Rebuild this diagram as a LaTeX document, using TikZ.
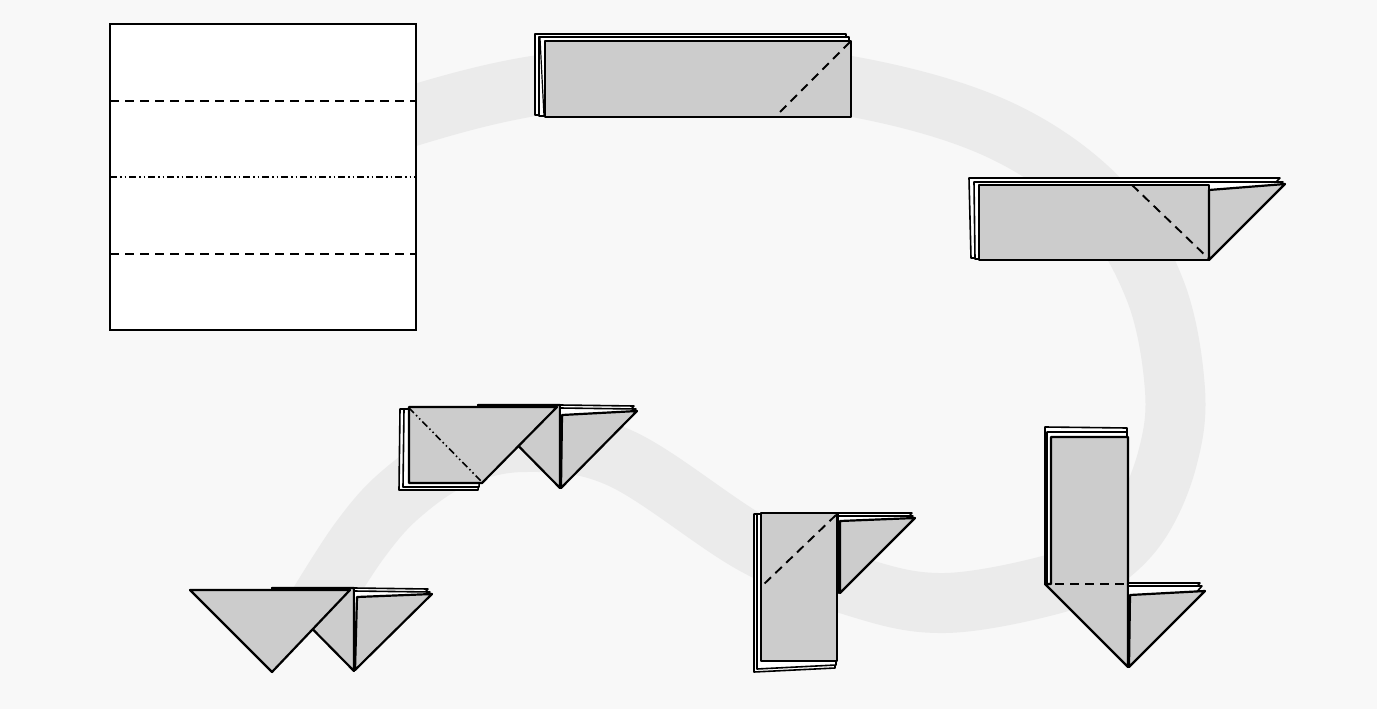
\documentclass[tikz,border=0pt]{standalone}
\definecolor{paperbg}{HTML}{F8F8F8}
\definecolor{trail}{HTML}{EBEBEB}
\definecolor{paper}{HTML}{CCCCCC}
\begin{document}
\begin{tikzpicture}[x=1pt,y=-1pt,
    layer/.style={fill=white,draw=black,line width=1.6pt,line join=round},
    flap/.style={fill=paper,draw=black,line width=2.2pt,line join=round},
    valley/.style={line width=1.9pt,dash pattern=on 9pt off 6pt},
    mountain/.style={line width=1.6pt,dash pattern=on 7pt off 3pt on 1.5pt off 3pt on 1.5pt off 3pt}]
                \useasboundingbox (0,0) rectangle (1377,709);
                \fill[paperbg] (0,0) rectangle (1377,709);
                \draw[trail,line width=60pt] plot[smooth,tension=0.6] coordinates {(340,145) (415,115) (540,85) (700,72) (860,88) (1000,130) (1100,200) (1155,290) (1175,390) (1167,460) (1140,522) (1100,562) (1050,585) (945,603) (860,588) (755,545) (620,458) (525,442) (455,458) (400,495) (360,540) (318,605)};
                % square
                \draw[fill=white,line width=2.2pt] (110,24) rectangle (416,330);
                \draw[valley] (110,101) -- (416,101);
                \draw[mountain] (110,177) -- (416,177);
                \draw[valley] (110,254) -- (416,254);
                % strip
                \draw[layer] (535,34) rectangle (846,115);
                \draw[layer] (539,37) rectangle (849,116);
                \draw[line width=1.2pt] (540,38) -- (544,116);
                \draw[flap] (545,41) rectangle (851,117);
                \draw[valley] (850,42) -- (779,113);
                % strip with flap
                \draw[layer] (969,178) -- (1280,178) -- (1205,256) -- (971,258) -- cycle;
                \draw[layer] (974,182) -- (1283,182) -- (1207,258) -- (975,259) -- cycle;
                \draw[flap] (979,185) rectangle (1209,260);
                \draw[flap] (1209,190) -- (1285,184) -- (1209,260) -- cycle;
                \draw[valley] (1132,185) -- (1208,258);
                % arrow
                \draw[layer] (1045,427) -- (1127,428) -- (1128,584) -- (1045,584) -- cycle;
                \draw[layer] (1047,432) -- (1127,432) -- (1128,584) -- (1047,584) -- cycle;
                \draw[flap] (1051,437) -- (1128,437) -- (1128,667) -- (1045,584) -- (1051,584) -- cycle;
                \draw[valley] (1055,584) -- (1128,584);
                \draw[layer] (1128,583) -- (1200,583) -- (1129,667) -- cycle;
                \draw[layer] (1128,586) -- (1202,586) -- (1129,667) -- cycle;
                \draw[flap] (1130,595) -- (1205,591) -- (1129,667) -- cycle;
                % column
                \draw[layer] (754,514) -- (838,513) -- (835,668) -- (754,672) -- cycle;
                \draw[layer] (757,514) -- (838,513) -- (836,665) -- (757,669) -- cycle;
                \draw[flap] (761,513) rectangle (837,661);
                \draw[valley] (836,515) -- (763,585);
                \draw[layer] (838,513) -- (912,513) -- (838,593) -- cycle;
                \draw[layer] (838,516) -- (913,516) -- (838,593) -- cycle;
                \draw[flap] (840,521) -- (915,518) -- (840,593) -- cycle;
                % square and triangle
                \draw[flap] (478,405) -- (560,405) -- (560,488) -- cycle;
                \draw[layer] (400,409) -- (482,409) -- (478,490) -- (399,490) -- cycle;
                \draw[layer] (404,409) -- (482,409) -- (479,487) -- (403,487) -- cycle;
                \draw[flap] (409,407) -- (557,407) -- (482,483) -- (409,483) -- cycle;
                \draw[mountain] (409,408) -- (482,482);
                \draw[layer] (560,405) -- (634,406) -- (560,488) -- cycle;
                \draw[layer] (560,408) -- (636,409) -- (560,488) -- cycle;
                \draw[flap] (562,415) -- (637,411) -- (561,488) -- cycle;
                % triangles
                \draw[flap] (272,588) -- (354,588) -- (354,671) -- cycle;
                \draw[flap] (190,590) -- (350,590) -- (272,672) -- cycle;
                \draw[layer] (354,588) -- (428,589) -- (355,670) -- cycle;
                \draw[layer] (354,591) -- (430,592) -- (355,670) -- cycle;
                \draw[flap] (357,597) -- (432,594) -- (355,670) -- cycle;
\end{tikzpicture}
\end{document}
